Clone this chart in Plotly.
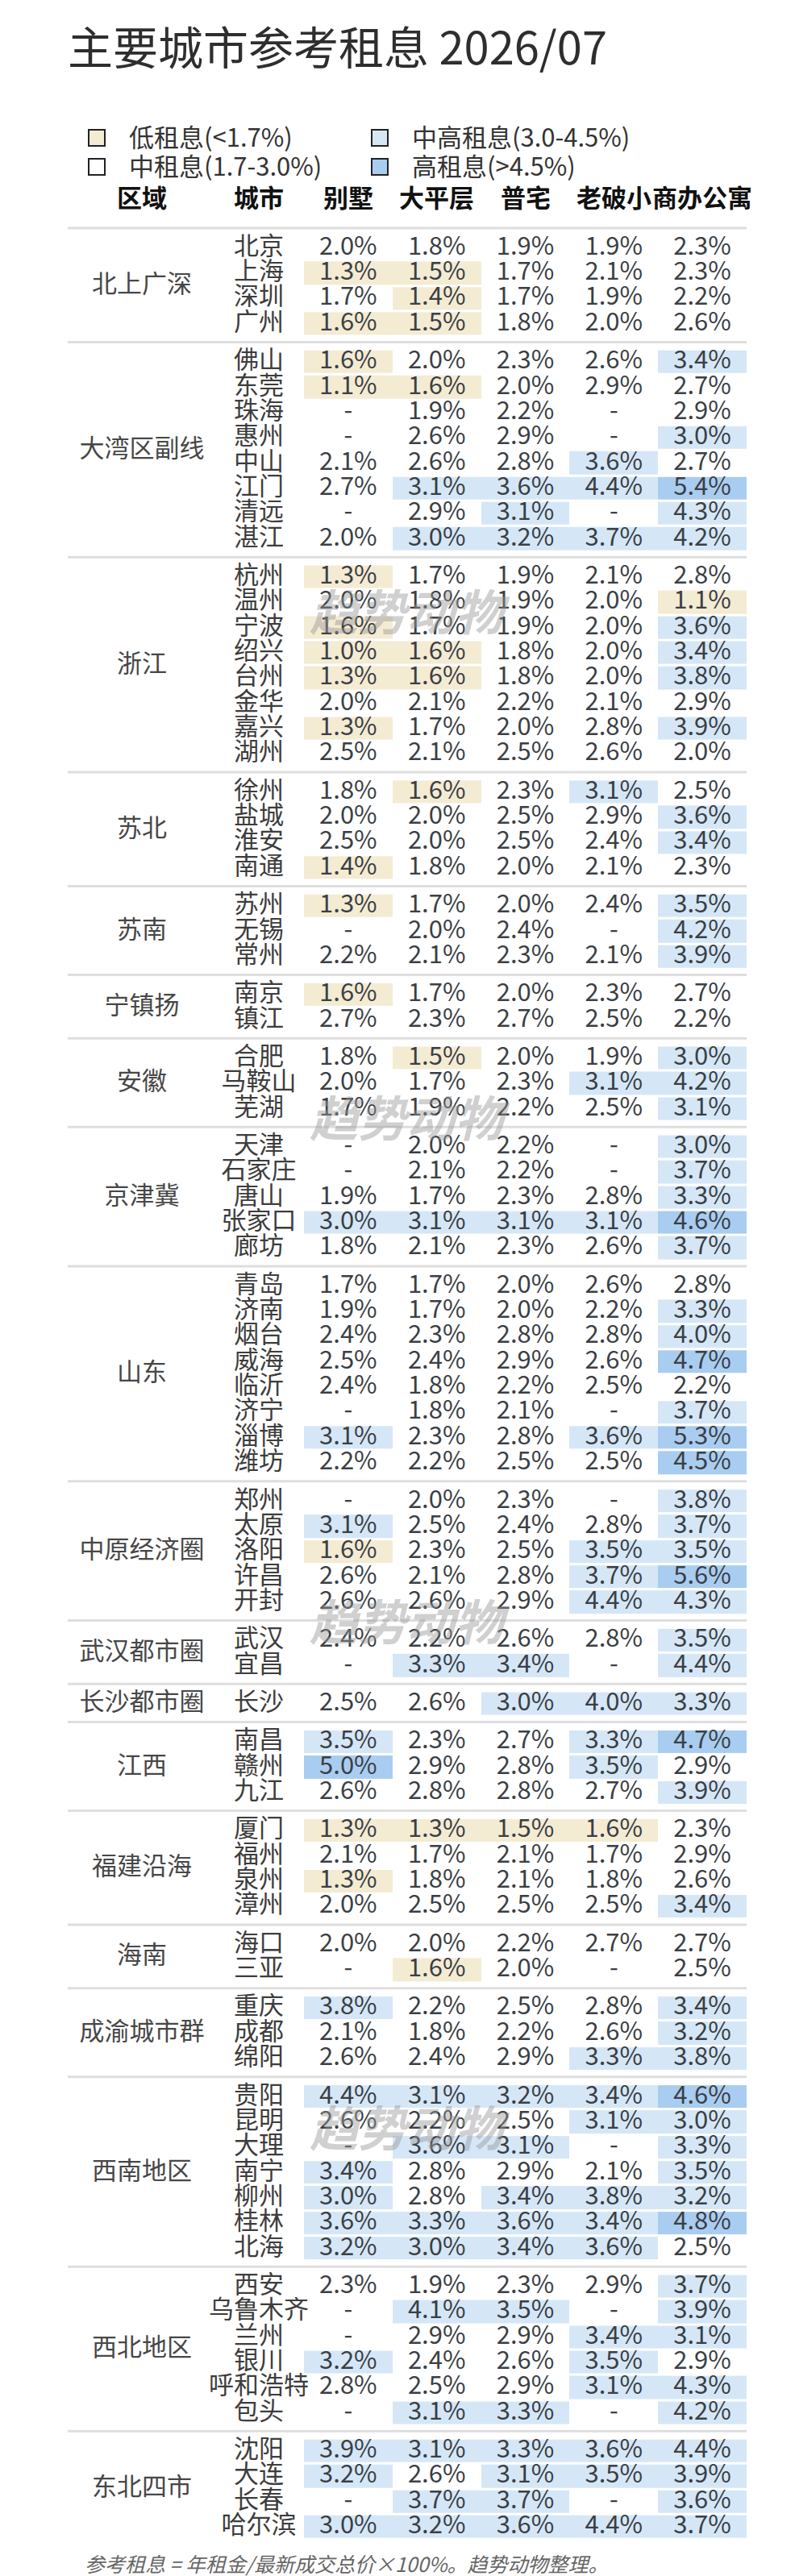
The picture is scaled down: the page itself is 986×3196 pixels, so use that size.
import plotly.graph_objects as go

# ---- data ----
title_text = "主要城市参考租息 2026/07"
col_names = ["别墅", "大平层", "普宅", "老破小", "商办公寓"]

regions = ["北上广深", "大湾区副线", "浙江", "苏北", "苏南", "宁镇扬", "安徽", "京津冀",
           "山东", "中原经济圈", "武汉都市圈", "长沙都市圈", "江西", "福建沿海", "海南",
           "成渝城市群", "西南地区", "西北地区", "东北四市"]
region_sizes = [4, 8, 8, 4, 3, 2, 3, 5, 8, 5, 2, 1, 3, 4, 2, 3, 7, 6, 4]

cities = ["北京", "上海", "深圳", "广州",
          "佛山", "东莞", "珠海", "惠州", "中山", "江门", "清远", "湛江",
          "杭州", "温州", "宁波", "绍兴", "台州", "金华", "嘉兴", "湖州",
          "徐州", "盐城", "淮安", "南通",
          "苏州", "无锡", "常州",
          "南京", "镇江",
          "合肥", "马鞍山", "芜湖",
          "天津", "石家庄", "唐山", "张家口", "廊坊",
          "青岛", "济南", "烟台", "威海", "临沂", "济宁", "淄博", "潍坊",
          "郑州", "太原", "洛阳", "许昌", "开封",
          "武汉", "宜昌",
          "长沙",
          "南昌", "赣州", "九江",
          "厦门", "福州", "泉州", "漳州",
          "海口", "三亚",
          "重庆", "成都", "绵阳",
          "贵阳", "昆明", "大理", "南宁", "柳州", "桂林", "北海",
          "西安", "乌鲁木齐", "兰州", "银川", "呼和浩特", "包头",
          "沈阳", "大连", "长春", "哈尔滨"]

villa = [2.0, 1.3, 1.7, 1.6,
         1.6, 1.1, None, None, 2.1, 2.7, None, 2.0,
         1.3, 2.0, 1.6, 1.0, 1.3, 2.0, 1.3, 2.5,
         1.8, 2.0, 2.5, 1.4,
         1.3, None, 2.2,
         1.6, 2.7,
         1.8, 2.0, 1.7,
         None, None, 1.9, 3.0, 1.8,
         1.7, 1.9, 2.4, 2.5, 2.4, None, 3.1, 2.2,
         None, 3.1, 1.6, 2.6, 2.6,
         2.4, None,
         2.5,
         3.5, 5.0, 2.6,
         1.3, 2.1, 1.3, 2.0,
         2.0, None,
         3.8, 2.1, 2.6,
         4.4, 2.6, None, 3.4, 3.0, 3.6, 3.2,
         2.3, None, None, 3.2, 2.8, None,
         3.9, 3.2, None, 3.0]

flat = [1.8, 1.5, 1.4, 1.5,
        2.0, 1.6, 1.9, 2.6, 2.6, 3.1, 2.9, 3.0,
        1.7, 1.8, 1.7, 1.6, 1.6, 2.1, 1.7, 2.1,
        1.6, 2.0, 2.0, 1.8,
        1.7, 2.0, 2.1,
        1.7, 2.3,
        1.5, 1.7, 1.9,
        2.0, 2.1, 1.7, 3.1, 2.1,
        1.7, 1.7, 2.3, 2.4, 1.8, 1.8, 2.3, 2.2,
        2.0, 2.5, 2.3, 2.1, 2.6,
        2.2, 3.3,
        2.6,
        2.3, 2.9, 2.8,
        1.3, 1.7, 1.8, 2.5,
        2.0, 1.6,
        2.2, 1.8, 2.4,
        3.1, 2.2, 3.6, 2.8, 2.8, 3.3, 3.0,
        1.9, 4.1, 2.9, 2.4, 2.5, 3.1,
        3.1, 2.6, 3.7, 3.2]

house = [1.9, 1.7, 1.7, 1.8,
         2.3, 2.0, 2.2, 2.9, 2.8, 3.6, 3.1, 3.2,
         1.9, 1.9, 1.9, 1.8, 1.8, 2.2, 2.0, 2.5,
         2.3, 2.5, 2.5, 2.0,
         2.0, 2.4, 2.3,
         2.0, 2.7,
         2.0, 2.3, 2.2,
         2.2, 2.2, 2.3, 3.1, 2.3,
         2.0, 2.0, 2.8, 2.9, 2.2, 2.1, 2.8, 2.5,
         2.3, 2.4, 2.5, 2.8, 2.9,
         2.6, 3.4,
         3.0,
         2.7, 2.8, 2.8,
         1.5, 2.1, 2.1, 2.5,
         2.2, 2.0,
         2.5, 2.2, 2.9,
         3.2, 2.5, 3.1, 2.9, 3.4, 3.6, 3.4,
         2.3, 3.5, 2.9, 2.6, 2.9, 3.3,
         3.3, 3.1, 3.7, 3.6]

old_small = [1.9, 2.1, 1.9, 2.0,
             2.6, 2.9, None, None, 3.6, 4.4, None, 3.7,
             2.1, 2.0, 2.0, 2.0, 2.0, 2.1, 2.8, 2.6,
             3.1, 2.9, 2.4, 2.1,
             2.4, None, 2.1,
             2.3, 2.5,
             1.9, 3.1, 2.5,
             None, None, 2.8, 3.1, 2.6,
             2.6, 2.2, 2.8, 2.6, 2.5, None, 3.6, 2.5,
             None, 2.8, 3.5, 3.7, 4.4,
             2.8, None,
             4.0,
             3.3, 3.5, 2.7,
             1.6, 1.7, 1.8, 2.5,
             2.7, None,
             2.8, 2.6, 3.3,
             3.4, 3.1, None, 2.1, 3.8, 3.4, 3.6,
             2.9, None, 3.4, 3.5, 3.1, None,
             3.6, 3.5, None, 4.4]

office = [2.3, 2.3, 2.2, 2.6,
          3.4, 2.7, 2.9, 3.0, 2.7, 5.4, 4.3, 4.2,
          2.8, 1.1, 3.6, 3.4, 3.8, 2.9, 3.9, 2.0,
          2.5, 3.6, 3.4, 2.3,
          3.5, 4.2, 3.9,
          2.7, 2.2,
          3.0, 4.2, 3.1,
          3.0, 3.7, 3.3, 4.6, 3.7,
          2.8, 3.3, 4.0, 4.7, 2.2, 3.7, 5.3, 4.5,
          3.8, 3.7, 3.5, 5.6, 4.3,
          3.5, 4.4,
          3.3,
          4.7, 2.9, 3.9,
          2.3, 2.9, 2.6, 3.4,
          2.7, 2.5,
          3.4, 3.2, 3.8,
          4.6, 3.0, 3.3, 3.5, 3.2, 4.8, 2.5,
          3.7, 3.9, 3.1, 2.9, 4.3, 4.2,
          4.4, 3.9, 3.6, 3.7]

legend_labels = ["低租息(<1.7%)", "中租息(1.7-3.0%)", "中高租息(3.0-4.5%)", "高租息(>4.5%)"]
bounds = [1.7, 3.0, 4.5]

footnote = "参考租息 = 年租金/最新成交总价×100%。趋势动物整理。"
watermark = "趋势动物"

# ---- style / layout ----
W, H = 986, 3196
FONT = "Noto Sans CJK SC"
band_colors = ["#f4ebd3", "#ffffff", "#d5e7f7", "#a9cdf1"]
text_col = "#3b3f45"
X_LEFT, COL_W = 369, 109.8
CITY_X, REGION_X = 313, 168
FIRST_Y, ROW_H, GROUP_GAP = 300, 31.35, 16
LINE_X0, LINE_X1 = 76, 918


def band(v):
    if v is None:
        return None
    k = 0
    for b in bounds:
        if v >= b:
            k += 1
    return k


columns = [villa, flat, house, old_small, office]
col_x = [X_LEFT + (i + 0.5) * COL_W for i in range(len(col_names))]

row_y = []
for gi, n in enumerate(region_sizes):
    start = len(row_y)
    for r in range(n):
        row_y.append(FIRST_Y + (start + r) * ROW_H + gi * GROUP_GAP)

# discrete colour scale for bands 0..3
cs = []
for k, c in enumerate(band_colors):
    cs.append([k / 4, c])
    cs.append([(k + 1) / 4, c])

fig = go.Figure()

shapes = []
start = 0
for gi, n in enumerate(region_sizes):
    z = []
    for r in range(start, start + n):
        z.append([band(col[r]) for col in columns])
    fig.add_trace(go.Heatmap(
        z=z, x0=col_x[0], dx=COL_W, y0=row_y[start], dy=ROW_H,
        zmin=-0.5, zmax=3.5, colorscale=cs, showscale=False,
        ygap=3, xgap=0, hoverinfo="skip"))
    sep_y = row_y[start] - 25
    shapes.append(dict(type="line", xref="x", yref="y", x0=LINE_X0, x1=LINE_X1,
                       y0=sep_y, y1=sep_y, line=dict(color="#dedede", width=3)))
    start += n

# values
vx, vy, vt = [], [], []
for ci, col in enumerate(columns):
    for r, v in enumerate(col):
        vx.append(col_x[ci])
        vy.append(row_y[r])
        vt.append("-" if v is None else f"{v:.1f}%")
fig.add_trace(go.Scatter(x=vx, y=vy, text=vt, mode="text", hoverinfo="skip",
                         textfont=dict(family=FONT, size=31, color=text_col)))

# cities
fig.add_trace(go.Scatter(x=[CITY_X] * len(cities), y=row_y, text=cities, mode="text",
                         hoverinfo="skip",
                         textfont=dict(family=FONT, size=31, color="#3d3d3d")))

# regions
reg_y = []
start = 0
for n in region_sizes:
    reg_y.append(sum(row_y[start:start + n]) / n)
    start += n
fig.add_trace(go.Scatter(x=[REGION_X] * len(regions), y=reg_y, text=regions, mode="text",
                         hoverinfo="skip",
                         textfont=dict(family=FONT, size=31, color="#474747")))

# legend swatches
leg_x = [112, 112, 463, 463]
leg_y = [163, 199, 163, 199]
fig.add_trace(go.Scatter(x=leg_x, y=leg_y, mode="markers", hoverinfo="skip",
                         marker=dict(symbol="square", size=20, color=band_colors,
                                     line=dict(color="#222222", width=2))))

annotations = []
for i, lab in enumerate(legend_labels):
    annotations.append(dict(x=leg_x[i] + 38, y=leg_y[i] - 3, text=lab, xanchor="left",
                            yanchor="middle", showarrow=False,
                            font=dict(family=FONT, size=31, color="#333333")))

# header
hdr_x = [REGION_X, CITY_X] + col_x
hdr_t = ["区域", "城市"] + col_names
for x, t in zip(hdr_x, hdr_t):
    annotations.append(dict(x=x, y=235, text=t, showarrow=False, xanchor="center",
                            yanchor="middle",
                            font=dict(family=FONT, size=31, color="#111111", weight="bold")))

# title
annotations.append(dict(x=74, y=47, text=title_text, showarrow=False, xanchor="left",
                        yanchor="middle", font=dict(family=FONT, size=56, color="#2e2e2e")))

# watermark
for wy in [747, 1375, 2000, 2628]:
    annotations.append(dict(x=500, y=wy, text=watermark, showarrow=False,
                            font=dict(family=FONT, size=60, color="rgba(150,150,150,0.45)",
                                      weight="bold", style="italic")))

# footnote
annotations.append(dict(x=95, y=3172, text=footnote, showarrow=False, xanchor="left",
                        yanchor="middle",
                        font=dict(family=FONT, size=25, color="#666666", style="italic")))

fig.update_layout(
    width=W, height=H,
    margin=dict(l=0, r=0, t=0, b=0),
    paper_bgcolor="white", plot_bgcolor="white",
    showlegend=False,
    xaxis=dict(range=[0, W], visible=False, fixedrange=True),
    yaxis=dict(range=[H, 0], visible=False, fixedrange=True),
    shapes=shapes,
    annotations=annotations,
)

fig.write_html("out.html")
